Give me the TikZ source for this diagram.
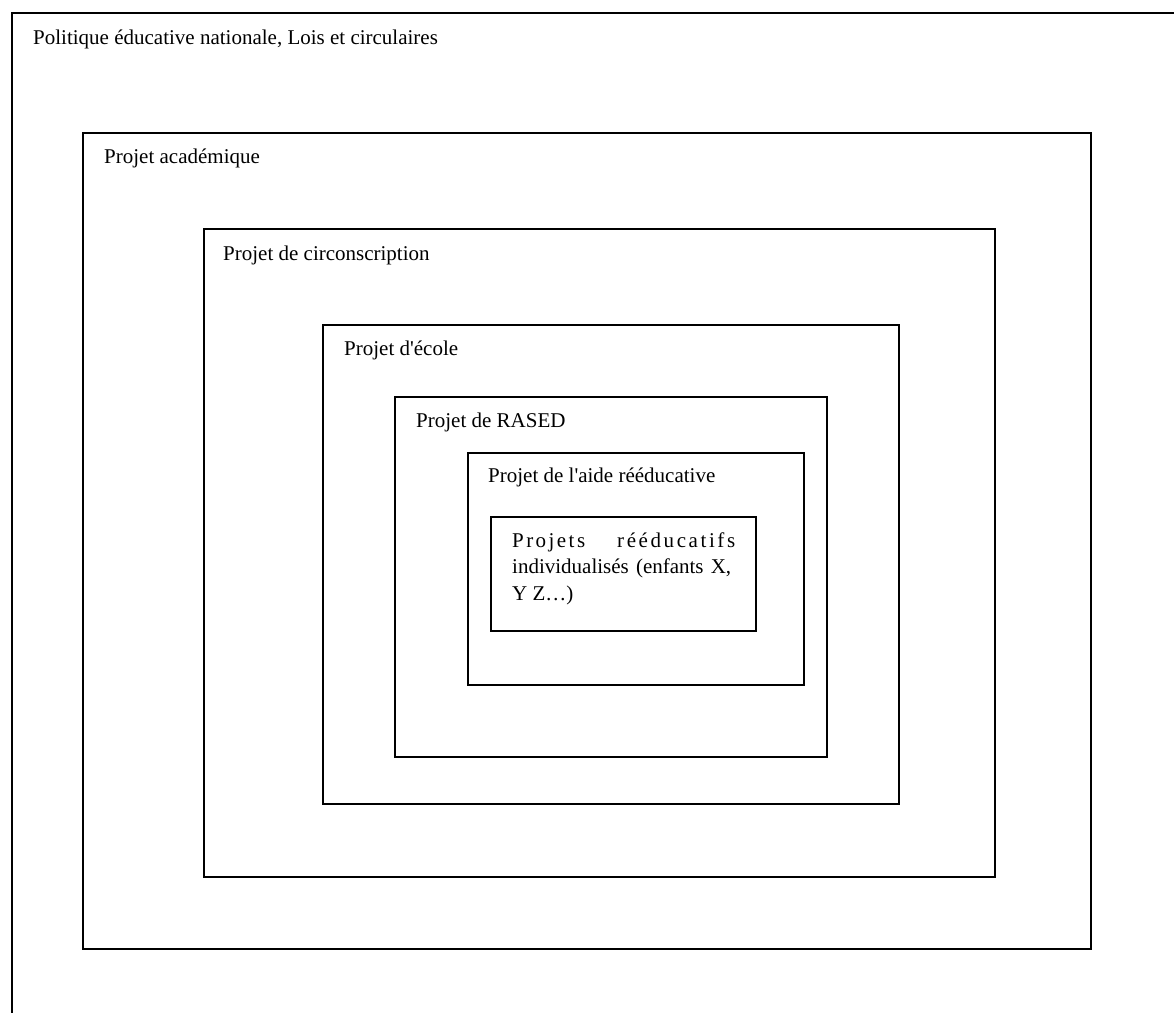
\documentclass[tikz,border=0pt]{standalone}
\usepackage{fontspec}
\setmainfont{Liberation Serif}[Ligatures=TeXOff]
\begin{document}
\begin{tikzpicture}[x=1pt,y=-1pt,
  frame/.style={draw=black,line width=1.8pt,rectangle,inner sep=0pt,outer sep=0pt,anchor=north west},
  lbl/.style={anchor=base west,inner sep=0pt,font=\fontsize{21pt}{26pt}\selectfont}]
\useasboundingbox (0,0) rectangle (1174,1012);
\clip (0,0) rectangle (1174,1012);
\node[frame,minimum width=1250pt,minimum height=1100pt] (nat) at (12,13) {};
\node[frame,minimum width=1008pt,minimum height=816pt] (acad) at (83,133) {};
\node[frame,minimum width=791pt,minimum height=648pt] (circ) at (204,229) {};
\node[frame,minimum width=576pt,minimum height=479pt] (ecole) at (323,325) {};
\node[frame,minimum width=432pt,minimum height=360pt] (rased) at (395,397) {};
\node[frame,minimum width=336pt,minimum height=232pt] (aide) at (468,453) {};
\node[frame,minimum width=265pt,minimum height=114pt] (indiv) at (491,517) {};
\node[lbl] (tnat) at (33,44) {Politique éducative nationale, Lois et circulaires};
\node[lbl] (tacad) at (104,163) {Projet académique};
\node[lbl] (tcirc) at (223,260) {Projet de circonscription};
\node[lbl] (tecole) at (344,355) {Projet d'école};
\node[lbl] (trased) at (416,427) {Projet de RASED};
\node[lbl] (taide) at (488,482) {Projet de l'aide rééducative};
\node[lbl] (tind1) at (512,547) {\makebox[73pt][s]{P\hfil r\hfil o\hfil j\hfil e\hfil t\hfil s}\hspace{32pt}\makebox[118pt][s]{r\hfil é\hfil é\hfil d\hfil u\hfil c\hfil a\hfil t\hfil i\hfil f\hfil s}};
\node[lbl] (tind2) at (512,573) {\makebox[219pt][s]{individualisés (enfants X,}};
\node[lbl] (tind3) at (512,600) {Y Z…)};
\end{tikzpicture}
\end{document}
